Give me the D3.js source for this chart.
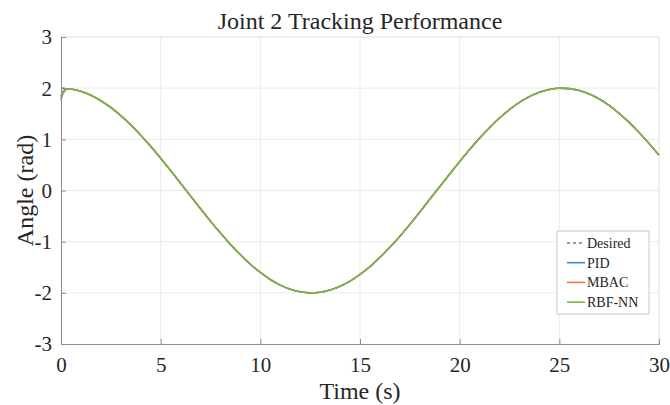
<!DOCTYPE html>
<html>
<head>
<meta charset="utf-8">
<script src="https://cdn.jsdelivr.net/npm/d3@7"></script>
<style>
  body { margin: 0; background: #fff; }
  text { font-family: "Liberation Serif", "Times New Roman", serif; fill: #262626; }
</style>
</head>
<body>
<div id="graph"></div>
<script>
// time grid (s) and desired trajectory
const time = [0,0.5,1,1.5,2,2.5,3,3.5,4,4.5,5,5.5,6,6.5,7,7.5,8,8.5,9,9.5,10,10.5,11,11.5,12,12.5,13,13.5,14,14.5,15,15.5,16,16.5,17,17.5,18,18.5,19,19.5,20,20.5,21,21.5,22,22.5,23,23.5,24,24.5,25,25.5,26,26.5,27,27.5,28,28.5,29,29.5,30];
const desired = [2.000,1.984,1.938,1.861,1.755,1.622,1.463,1.282,1.081,0.862,0.631,0.389,0.141,-0.108,-0.357,-0.599,-0.832,-1.053,-1.256,-1.441,-1.602,-1.739,-1.849,-1.929,-1.980,-2.000,-1.988,-1.945,-1.873,-1.772,-1.641,-1.487,-1.307,-1.109,-0.894,-0.665,-0.422,-0.172,0.075,0.322,0.567,0.801,1.024,1.227,1.417,1.582,1.722,1.835,1.920,1.975,1.999,1.991,1.953,1.885,1.788,1.663,1.508,1.332,1.134,0.920,0.693];

// start-up transient of each controller (first 0.4 s)
const earlyTime = [0, 0.1, 0.2, 0.3, 0.4];
const pidEarly  = [1.84, 1.93, 1.97, 1.985, 1.99];
const mbacEarly = [1.80, 1.91, 1.96, 1.98, 1.99];
const rbfEarly  = [1.76, 1.89, 1.95, 1.975, 1.99];

const xTicks = [0, 5, 10, 15, 20, 25, 30];
const yTicks = [-3, -2, -1, 0, 1, 2, 3];

const width = 670, height = 405;
const margin = {left: 61, right: 11, top: 37, bottom: 61};
const w = width - margin.left - margin.right;
const h = height - margin.top - margin.bottom;

const svg = d3.select("#graph").append("svg")
    .attr("width", width)
    .attr("height", height);

const g = svg.append("g")
    .attr("transform", `translate(${margin.left}, ${margin.top})`);

const x = d3.scaleLinear().domain([0, 30]).range([0, w]);
const y = d3.scaleLinear().domain([-3, 3]).range([h, 0]);

// grid
g.append("g").selectAll("line").data(xTicks.slice(1, -1)).enter().append("line")
    .attr("x1", d => x(d)).attr("x2", d => x(d))
    .attr("y1", 0).attr("y2", h)
    .attr("stroke", "#ebebeb");
g.append("g").selectAll("line").data(yTicks.slice(1, -1)).enter().append("line")
    .attr("y1", d => y(d)).attr("y2", d => y(d))
    .attr("x1", 0).attr("x2", w)
    .attr("stroke", "#ebebeb");

// box top/right
g.append("line").attr("x1", 0).attr("x2", w).attr("y1", 0).attr("y2", 0).attr("stroke", "#e0e0e0");
g.append("line").attr("x1", w).attr("x2", w).attr("y1", 0).attr("y2", h).attr("stroke", "#e0e0e0");

// build series
const desiredData = time.map((t, i) => ({t: t, v: desired[i]}));
function tracked(early) {
    let pts = earlyTime.map((t, i) => ({t: t, v: early[i]}));
    return pts.concat(desiredData.filter(d => d.t >= 0.5));
}
const series = [
    {name: "PID", color: "#2f8fd3", data: tracked(pidEarly)},
    {name: "MBAC", color: "#e8764a", data: tracked(mbacEarly)},
    {name: "RBF-NN", color: "#7ab648", data: tracked(rbfEarly)}
];

const line = d3.line()
    .x(d => x(d.t))
    .y(d => y(d.v))
    .curve(d3.curveMonotoneX);

g.append("path")
    .datum(desiredData)
    .attr("fill", "none")
    .attr("stroke", "#333")
    .attr("stroke-width", 1.2)
    .attr("stroke-dasharray", "4,3")
    .attr("d", line);

series.forEach(function(s) {
    g.append("path")
        .datum(s.data)
        .attr("fill", "none")
        .attr("stroke", s.color)
        .attr("stroke-width", 1.6)
        .attr("d", line);
});

// axes
const fmt = d => String(d);   // plain hyphen minus, no decimals
const xAxis = g.append("g")
    .attr("transform", `translate(0, ${h})`)
    .call(d3.axisBottom(x).tickValues(xTicks).tickFormat(fmt).tickSize(-5));
const yAxis = g.append("g")
    .call(d3.axisLeft(y).tickValues(yTicks).tickFormat(fmt).tickSize(-5));

[xAxis, yAxis].forEach(function(a) {
    a.select(".domain").attr("stroke", "#8c8c8c");
    a.selectAll(".tick line").attr("stroke", "#8c8c8c");
    a.selectAll("text")
        .style("font-family", "'Liberation Serif', serif")
        .style("font-size", "21px")
        .attr("fill", "#333");
});
xAxis.selectAll("text").attr("y", 28).attr("dy", null);
yAxis.selectAll("text").attr("x", -9).attr("dy", "0.33em");

// title and labels
svg.append("text")
    .attr("x", margin.left + w / 2)
    .attr("y", 29)
    .style("text-anchor", "middle")
    .style("font-size", "24px")
    .text("Joint 2 Tracking Performance");

svg.append("text")
    .attr("x", margin.left + w / 2)
    .attr("y", 399)
    .style("text-anchor", "middle")
    .style("font-size", "24px")
    .text("Time (s)");

svg.append("text")
    .attr("transform", `translate(33, ${margin.top + h / 2}) rotate(-90)`)
    .style("text-anchor", "middle")
    .style("font-size", "24px")
    .text("Angle (rad)");

// legend
const legendItems = [{name: "Desired", color: "#333", dash: "3,3"}].concat(
    series.map(s => ({name: s.name, color: s.color, dash: null})));

const legend = svg.append("g").attr("transform", "translate(557, 231)");
legend.append("rect")
    .attr("width", 92).attr("height", 83)
    .attr("fill", "#fff")
    .attr("stroke", "#c8c8c8");

legendItems.forEach(function(d, i) {
    const yy = 12 + i * 19.7;
    legend.append("line")
        .attr("x1", 10).attr("x2", 28)
        .attr("y1", yy).attr("y2", yy)
        .attr("stroke", d.color)
        .attr("stroke-width", d.dash ? 1 : 1.6)
        .attr("stroke-dasharray", d.dash);
    legend.append("text")
        .attr("x", 30).attr("y", yy)
        .attr("dy", "0.35em")
        .style("font-size", "14px")
        .text(d.name);
});
</script>
</body>
</html>
